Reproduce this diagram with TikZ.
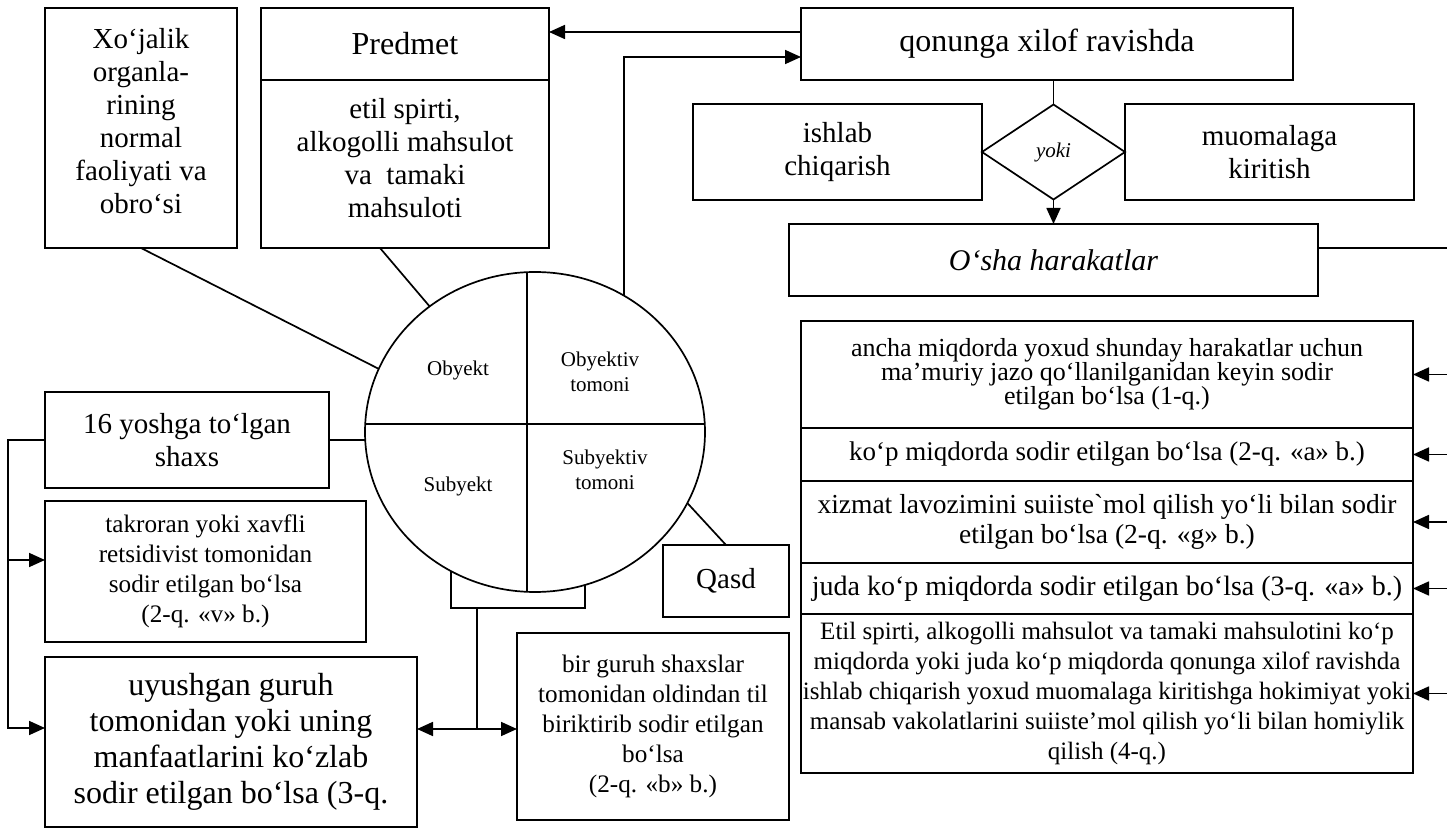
\documentclass[tikz,border=0pt]{standalone}
\usepackage{fontspec}
\setmainfont{Liberation Serif}
\usepackage{tikz}
\usetikzlibrary{positioning,shapes.geometric,arrows.meta}

\tikzset{
  box/.style={draw, rectangle, align=center, inner sep=0pt, outer sep=0pt},
  arr/.style={-{Triangle[length=8pt,width=7pt]}},
  twoarr/.style={{Triangle[length=8pt,width=7pt]}-{Triangle[length=8pt,width=7pt]}},
}
\newcommand{\setfs}[2]{\fontsize{#1}{#2}\selectfont}
\newcommand{\bigtxt}{\setfs{16}{18}}
\newcommand{\midtxt}{\setfs{14.5}{16.5}}
\newcommand{\smalltxt}{\setfs{12.6}{15}}
\newcommand{\tinytxt}{\setfs{10.5}{12.5}}

\begin{document}
\begin{tikzpicture}[x=0.5pt, y=-0.5pt, line width=0.85pt]
    \useasboundingbox (0,0) rectangle (1447,828);
    % Object and subject matter
    \node[box, font=\midtxt, minimum width=96pt, minimum height=120pt] (value) at (141,128)
        {Xo‘jalik\\organla-\\rining\\normal\\faoliyati va\\obro‘si\\[-9.5pt]\mbox{}};
    \node[box, font=\bigtxt, minimum width=144pt, minimum height=36pt] (phead) at (405,44) {Predmet};
    \node[box, font=\midtxt, minimum width=144pt, minimum height=84pt, below=0pt of phead] (pbody)
        {etil spirti,\\alkogolli mahsulot\\va\ \ tamaki\\mahsuloti\\[-10.5pt]\mbox{}};
    % Objective side
    \node[box, font=\bigtxt, minimum width=246pt, minimum height=36pt] (unlawful) at (1047,44) {qonunga xilof ravishda};
    \node[box, font=\midtxt, minimum width=144.5pt, minimum height=48pt] (make) at (837.5,152) {ishlab\\chiqarish};
    \node[draw, diamond, font=\tinytxt\itshape, minimum width=71.5pt, minimum height=47.5pt,
        inner sep=0pt, outer sep=0pt, right=0pt of make] (yoki) {yoki};
    \node[box, font=\midtxt, minimum width=144.5pt, minimum height=48pt, right=0pt of yoki] (trade) {muomalaga\\kiritish};
    \node[box, font={\setfs{15}{17}\itshape}, minimum width=264.5pt, minimum height=36pt] (same) at (1053.5,260) {O‘sha harakatlar};
    % Qualifying parts
    \node[box, font={\setfs{13}{12}}, minimum width=306pt, minimum height=53.5pt] (c1) at (1107,374.5)
        {ancha miqdorda yoxud shunday harakatlar uchun\\ma’muriy jazo qo‘llanilganidan keyin sodir\\etilgan bo‘lsa (1-q.)};
    \node[box, font={\setfs{13.5}{15}}, minimum width=306pt, minimum height=26.5pt, below=0pt of c1] (c2)
        {ko‘p miqdorda sodir etilgan bo‘lsa (2-q. «a» b.)};
    \node[box, font={\setfs{13.75}{15}}, minimum width=306pt, minimum height=41pt, below=0pt of c2] (c3)
        {xizmat lavozimini suiiste\textasciigrave mol qilish yo‘li bilan sodir\\etilgan bo‘lsa (2-q. «g» b.)};
    \node[box, font={\setfs{14}{15}}, minimum width=306pt, minimum height=25.5pt, below=0pt of c3] (c4)
        {juda ko‘p miqdorda sodir etilgan bo‘lsa (3-q. «a» b.)};
    \node[box, font={\setfs{12.5}{15}}, minimum width=306pt, minimum height=79.5pt, below=0pt of c4] (c5)
        {Etil spirti, alkogolli mahsulot va tamaki mahsulotini ko‘p\\miqdorda yoki juda ko‘p miqdorda qonunga xilof ravishda\\ishlab chiqarish yoxud muomalaga kiritishga hokimiyat yoki\\mansab vakolatlarini suiiste’mol qilish yo‘li bilan homiylik\\qilish (4-q.)};
    % Elements of the crime
    \node[draw, ellipse, minimum width=170pt, minimum height=160pt, inner sep=0pt, outer sep=0pt] (core) at (535,432) {};
    \draw ([xshift=-4pt]core.north) -- ([xshift=-4pt]core.south);
    \draw ([yshift=4pt]core.west) -- ([yshift=4pt]core.east);
    \node[font=\tinytxt] (objl) at (458,370) {Obyekt};
    \node[font=\tinytxt, align=center] (sidel) at (600,372) {Obyektiv\\tomoni};
    \node[font=\tinytxt] (subl) at (458,486) {Subyekt};
    \node[font=\tinytxt, align=center] (mindl) at (605,470) {Subyektiv\\tomoni};
    % Subject and subjective side
    \node[box, font=\midtxt, minimum width=142pt, minimum height=48pt] (young) at (187,440) {16 yoshga to‘lgan\\shaxs};
    \node[box, font=\smalltxt, minimum width=160.5pt, minimum height=70.5pt] (recid) at (205.5,571.5)
        {takroran yoki xavfli\\retsidivist tomonidan\\sodir etilgan bo‘lsa\\(2-q. «v» b.)};
    \node[box, font=\bigtxt, minimum width=186pt, minimum height=85pt] (gang) at (231,742)
        {uyushgan guruh\\tomonidan yoki uning\\manfaatlarini ko‘zlab\\sodir etilgan bo‘lsa (3-q.};
    \node[box, font=\smalltxt, minimum width=136pt, minimum height=93.5pt] (group) at (653,726.5)
        {bir guruh shaxslar\\tomonidan oldindan til\\biriktirib sodir etilgan\\bo‘lsa\\(2-q. «b» b.)};
    \node[box, font=\midtxt, minimum width=63pt, minimum height=36pt] (qasd) at (726,581) {Qasd};
    \coordinate (rim) at (1447,248);
    \coordinate (bus) at (8,442);
    \coordinate (fork) at (477,608);
    % Links to the circle
    \draw (value.south) -- (core.158.1);
    \draw ([xshift=-12.5pt]pbody.south) -- (core.130.6);
    \draw (young.east) -- (young.east -| core.west);
    \draw (core.335.4) -- (qasd.north);
    \draw[arr] (core.57.8) |- ([yshift=-6.5pt]unlawful.west);
    \draw[arr] ([yshift=6pt]unlawful.west) -- ([yshift=6pt]unlawful.west -| phead.east);
    % Either of the two acts
    \draw (yoki.north |- unlawful.south) -- (yoki.north);
    \draw[arr] (yoki.south) -- (yoki.south |- same.north);
    \draw ([yshift=6pt]same.east) -- ([yshift=6pt]same.east -| rim);
    \foreach \c in {c1,c2,c3,c4,c5}
        \draw[arr] (\c.east -| rim) -- (\c.east);
    % Left bus
    \draw[arr] (young.west) -- (young.west -| bus) |- ([yshift=7pt]gang.west);
    \draw[arr] ([yshift=5.75pt]recid.west -| bus) -- ([yshift=5.75pt]recid.west);
    % Bracket under the circle
    \draw (core.239.6) |- (fork);
    \draw (core.288.1) |- (fork);
    \draw (fork) -- ([yshift=6.5pt]gang.east -| fork);
    \draw[twoarr] ([yshift=6.5pt]gang.east) -- ([yshift=6.5pt]gang.east -| group.west);
\end{tikzpicture}
\end{document}
